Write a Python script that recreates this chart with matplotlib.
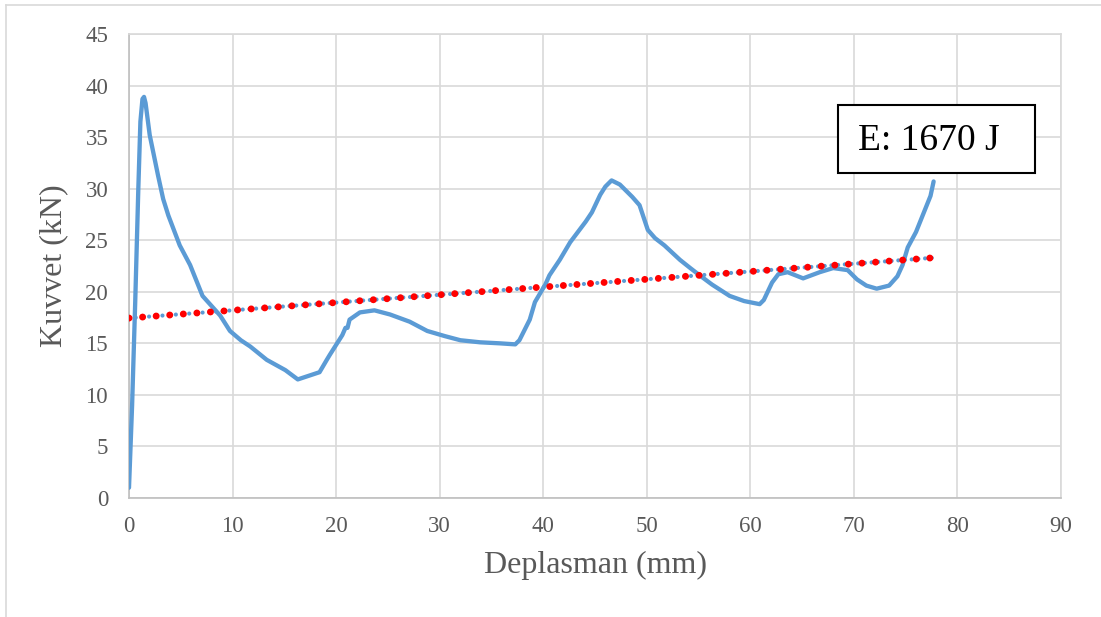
import matplotlib
matplotlib.use("Agg")
import matplotlib.pyplot as plt
from matplotlib.lines import Line2D
from matplotlib.patches import Rectangle

# force-displacement curve
deplasman = [0.0, 0.3, 0.6, 0.9, 1.1, 1.3, 1.45, 1.6, 2.0, 2.8, 3.3, 3.8, 4.9,
             5.9, 7.1, 8.8, 9.75, 10.8, 11.7, 13.3, 15.1, 16.3, 17.5, 18.4,
             19.1, 19.4, 20.6, 20.9, 21.1, 21.3, 22.3, 23.7, 25.2, 27.1, 28.8,
             30.5, 32.0, 33.9, 35.8, 37.3, 37.7, 38.7, 39.2, 40.2, 40.6, 41.6,
             42.6, 44.1, 44.7, 45.5, 46.0, 46.6, 47.4, 48.6, 49.3, 50.1, 50.8,
             51.7, 53.2, 54.2, 55.1, 56.3, 58.0, 59.4, 60.9, 61.3, 62.1, 62.7,
             63.6, 65.1, 66.7, 68.0, 69.4, 70.3, 71.2, 72.2, 73.4, 74.2, 74.7,
             75.2, 76.0, 76.8, 77.4, 77.7]
kuvvet = [1.0, 9.0, 19.0, 30.0, 36.5, 38.7, 38.9, 38.3, 35.2, 31.3, 29.0, 27.4,
          24.5, 22.6, 19.6, 17.7, 16.2, 15.3, 14.7, 13.4, 12.4, 11.5, 11.9,
          12.2, 13.4, 13.9, 15.8, 16.5, 16.5, 17.3, 18.0, 18.2, 17.8, 17.1,
          16.2, 15.7, 15.3, 15.1, 15.0, 14.9, 15.3, 17.3, 19.0, 20.7, 21.6,
          23.1, 24.8, 26.8, 27.7, 29.4, 30.2, 30.8, 30.4, 29.2, 28.4, 26.0,
          25.2, 24.5, 23.1, 22.3, 21.6, 20.7, 19.6, 19.1, 18.8, 19.2, 20.9,
          21.7, 21.9, 21.3, 21.9, 22.3, 22.1, 21.2, 20.6, 20.3, 20.6, 21.5,
          22.6, 24.3, 25.8, 27.8, 29.3, 30.7]

# linear trendline end points
trend_x = [0.0, 77.7]
trend_y = [17.45, 23.3]

x_ticks = list(range(0, 91, 10))
y_ticks = list(range(0, 46, 5))
energy_label = "E: 1670 J"

plt.rcParams['font.family'] = ['Liberation Serif', 'DejaVu Serif']

fig = plt.figure(figsize=(11.01, 6.17), dpi=100)
ax = fig.add_axes([129 / 1101, 1 - 498 / 617, 932 / 1101, 464 / 617])

ax.plot(deplasman, kuvvet, color='#5B9BD5', lw=3.1, zorder=3,
        solid_joinstyle='round', solid_capstyle='round')
ax.plot(trend_x, trend_y, color='#5B9BD5', lw=3.0, zorder=4,
        linestyle=(0, (0.01, 1.6)), dash_capstyle='round')
ax.plot(trend_x, trend_y, color='#FF0000', lw=5.0, zorder=5,
        linestyle=(0, (0.01, 1.95)), dash_capstyle='round')

ax.set_xlim(0, 90)
ax.set_ylim(0, 45)
ax.set_xticks(x_ticks)
ax.set_yticks(y_ticks)
ax.grid(True, color='#d9d9d9', lw=1.2)
ax.set_axisbelow(True)
for s in ax.spines.values():
    s.set_color('#d9d9d9')
    s.set_linewidth(1.2)
ax.spines['left'].set_color('#bfbfbf')
ax.spines['bottom'].set_color('#bfbfbf')
ax.tick_params(length=0, labelsize=16.5, labelcolor='#595959')
ax.tick_params(axis='x', pad=13)
ax.tick_params(axis='y', pad=15)

ax.set_xlabel('Deplasman (mm)', fontsize=23, color='#595959', labelpad=10)
ax.set_ylabel('Kuvvet (kN)', fontsize=23, color='#595959', labelpad=12)

# energy box
fig.add_artist(Rectangle((838 / 1101, 1 - 173 / 617), 197 / 1101, 68 / 617,
                         transform=fig.transFigure, facecolor='white',
                         edgecolor='black', lw=1.5, zorder=10))
fig.text(858 / 1101, 1 - 150 / 617, energy_label, fontsize=27, color='black',
         ha='left', va='baseline', zorder=11)

# outer frame of the chart area
fig.add_artist(Line2D([6 / 1101, 1], [1 - 5 / 617, 1 - 5 / 617],
                      transform=fig.transFigure, color='#d9d9d9', lw=1.2))
fig.add_artist(Line2D([6 / 1101, 6 / 1101], [0, 1 - 5 / 617],
                      transform=fig.transFigure, color='#d9d9d9', lw=1.2))

fig.savefig('out.png', dpi=100)
